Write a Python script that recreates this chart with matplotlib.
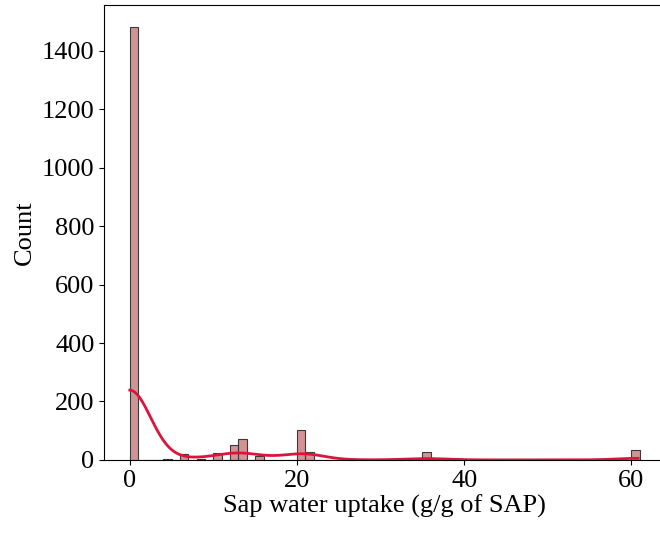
import numpy as np
import matplotlib
matplotlib.use("Agg")
import matplotlib.pyplot as plt
import seaborn as sns

# histogram: bin value (g/g) and count
uptake_values = [0.0, 4.5, 6.5, 8.5, 10.5, 12.5, 13.5, 15.5, 20.5, 21.5, 27.5, 35.5, 60.8]
uptake_counts = [1482, 3, 20, 4, 23, 52, 73, 15, 103, 26, 1, 28, 34]
bin_edges = np.arange(0, 62)

samples = np.repeat(uptake_values, uptake_counts)

plt.rcParams['font.family'] = ['Liberation Serif', 'DejaVu Serif']
plt.rcParams['font.size'] = 19

fig = plt.figure(figsize=(6.6, 5.36), dpi=100)
ax = fig.add_axes([0.158, 0.142, 0.850, 0.848])

sns.histplot(samples, bins=bin_edges, kde=True, ax=ax,
             color='brown', alpha=0.5, edgecolor='#3a3a3a', linewidth=0.8,
             kde_kws={'bw_adjust': 1.05},
             line_kws={'color': 'crimson', 'linewidth': 2})
ax.lines[0].set_color('crimson')

ax.set_xlabel('Sap water uptake (g/g of SAP)', fontsize=19, labelpad=2)
ax.set_ylabel('Count', fontsize=19)
ax.tick_params(labelsize=19)
ax.set_xticks([0, 20, 40, 60])

fig.savefig('out.png', dpi=100)
